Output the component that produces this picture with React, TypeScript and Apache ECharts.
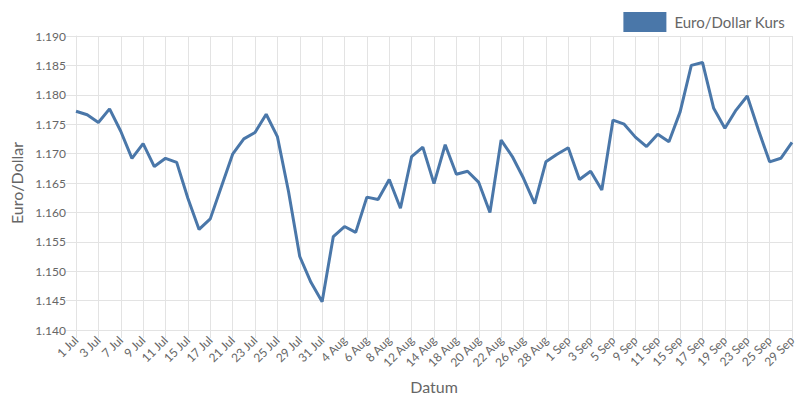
import React, { useEffect, useRef } from "react";
import * as echarts from "echarts";

const julDays = [1, 2, 3, 4, 7, 8, 9, 10, 11, 14, 15, 16, 17, 18, 21, 22, 23, 24, 25, 28, 29, 30, 31];
const augDays = [1, 4, 5, 6, 7, 8, 11, 12, 13, 14, 15, 18, 19, 20, 21, 22, 25, 26, 27, 28, 29];
const sepDays = [1, 2, 3, 4, 5, 8, 9, 10, 11, 12, 15, 16, 17, 18, 19, 22, 23, 24, 25, 26, 29];

const categories: string[] = [
  ...julDays.map((d) => `${d} Jul`),
  ...augDays.map((d) => `${d} Aug`),
  ...sepDays.map((d) => `${d} Sep`),
];

const rates: number[] = [
  1.1772, 1.1766, 1.1753, 1.1776, 1.1738, 1.1692, 1.1717, 1.1678, 1.1692, 1.1685,
  1.1624, 1.1571, 1.1589, 1.1644, 1.1699, 1.1725, 1.1736, 1.1767, 1.1729, 1.1635,
  1.1525, 1.1481, 1.1448, 1.1559, 1.1576, 1.1566, 1.1626, 1.1622, 1.1656, 1.1607,
  1.1695, 1.1711, 1.1649, 1.1715, 1.1665, 1.1670, 1.1651, 1.1600, 1.1723, 1.1695,
  1.1658, 1.1615, 1.1686, 1.1699, 1.1710, 1.1656, 1.1670, 1.1638, 1.1757, 1.1750,
  1.1728, 1.1712, 1.1733, 1.1720, 1.1771, 1.1850, 1.1855, 1.1777, 1.1743, 1.1774,
  1.1798, 1.1740, 1.1686, 1.1692, 1.1719,
];

const seriesName = "Euro/Dollar Kurs";
const yTitle = "Euro/Dollar";
const xTitle = "Datum";

export default function App() {
  const ref = useRef<HTMLDivElement>(null);
  useEffect(() => {
    if (!ref.current) return;
    const chart = echarts.init(ref.current, undefined, { renderer: "svg" });
    const font = "Lato, 'DejaVu Sans', sans-serif";
    const gridColor = "#e3e3e3";
    chart.setOption({
      animation: false,
      textStyle: { fontFamily: font },
      legend: {
        top: 7,
        right: 10,
        itemWidth: 43,
        itemHeight: 20,
        icon: "rect",
        textStyle: { fontFamily: font, fontSize: 15, color: "#666", padding: [0, 0, 0, 3] },
        data: [{ name: seriesName, icon: "rect" }],
      },
      grid: { left: 75, right: 8, top: 36, bottom: 70, containLabel: false },
      xAxis: {
        type: "category",
        data: categories,
        boundaryGap: false,
        name: xTitle,
        nameLocation: "middle",
        nameGap: 48,
        nameTextStyle: { fontFamily: font, fontSize: 16, color: "#666" },
        axisLine: { show: true, lineStyle: { color: gridColor } },
        axisTick: { show: true, interval: 1, length: 8, lineStyle: { color: gridColor } },
        axisLabel: {
          interval: 1,
          rotate: 45,
          margin: 8,
          fontFamily: font,
          fontSize: 12,
          color: "#666",
        },
        splitLine: { show: true, interval: 1, lineStyle: { color: gridColor } },
      },
      yAxis: {
        type: "value",
        min: 1.14,
        max: 1.19,
        interval: 0.005,
        name: yTitle,
        nameLocation: "middle",
        nameGap: 52,
        nameTextStyle: { fontFamily: font, fontSize: 16, color: "#666" },
        axisLine: { show: true, lineStyle: { color: gridColor } },
        axisTick: { show: true, length: 10, lineStyle: { color: gridColor } },
        axisLabel: {
          margin: 10,
          fontFamily: font,
          fontSize: 12,
          color: "#666",
          formatter: (v: number) => v.toFixed(3),
        },
        splitLine: { show: true, lineStyle: { color: gridColor } },
      },
      series: [
        {
          name: seriesName,
          type: "line",
          data: rates,
          showSymbol: false,
          symbol: "none",
          lineStyle: { color: "#4a77a9", width: 3 },
          itemStyle: { color: "#4a77a9" },
        },
      ],
    });
    return () => chart.dispose();
  }, []);
  return <div ref={ref} style={{ width: 800, height: 400, position: "absolute", left: 0, top: 0 }} />;
}
